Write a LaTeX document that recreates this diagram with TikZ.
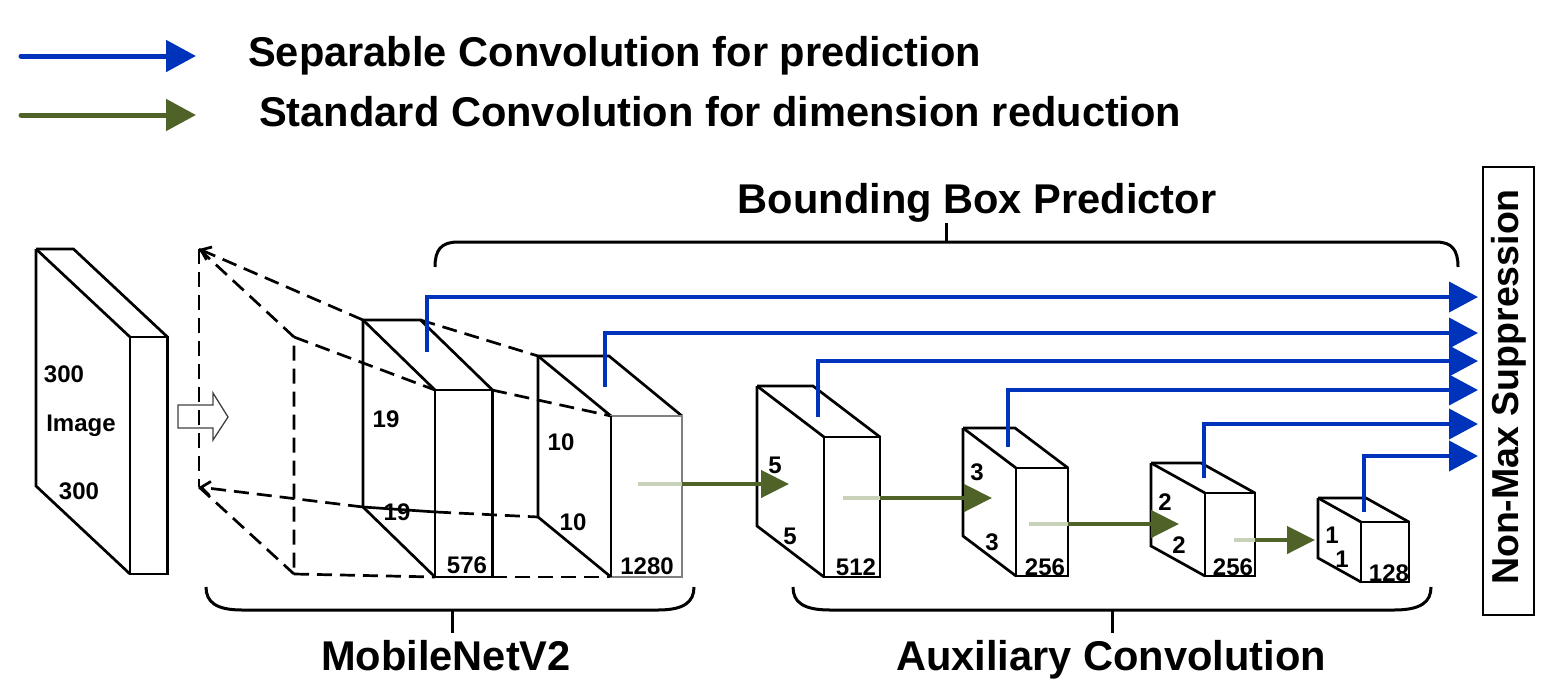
\documentclass[tikz,border=0pt]{standalone}
\usepackage{fontspec}
\setmainfont{Liberation Sans}
\usetikzlibrary{arrows.meta}
\definecolor{bluec}{RGB}{0,51,187}
\definecolor{greenc}{RGB}{79,98,40}
\definecolor{lightg}{RGB}{200,210,185}
\newcommand\myblock[7]{%
  \draw[blk] (#1,#2) -- ({#1+#5},#2) -- ({#1+#5+#3},{#2+#4});
  \draw[blk] (#1,#2) -- ({#1+#3},{#2+#4});
  \draw[blk] (#1,#2) -- (#1,{#2+#6}) -- ({#1+#3},{#2+#4+#6});
  \draw[blk,#7] ({#1+#3},{#2+#4}) rectangle ({#1+#3+#5},{#2+#4+#6});
}
\tikzset{
  blk/.style={line width=2.7pt, line join=miter},
  dsh/.style={line width=2.7pt, dash pattern=on 15pt off 8pt},
  lab/.style={font=\fontsize{24}{28}\selectfont\bfseries, inner sep=0pt, anchor=base},
  big/.style={font=\fontsize{41.6}{48}\selectfont\bfseries, inner sep=0pt},
  bluearr/.style={draw=bluec, line width=4pt, -{Triangle[length=29pt,width=30pt]}},
  greenarr/.style={draw=greenc, line width=4.5pt, -{Triangle[length=28pt,width=27pt]}},
  greenlight/.style={draw=lightg, line width=4.5pt},
  brace/.style={line width=3pt},
}
\begin{document}
\begin{tikzpicture}[x=1pt,y=-1pt]
\useasboundingbox (0,0) rectangle (1557,699);

% legend
\coordinate (lb1) at (21,56); \coordinate (lb2) at (196,56);
\coordinate (lg1) at (21,115); \coordinate (lg2) at (196,115);
\draw[draw=bluec, line width=5pt, line cap=round, -{Triangle[length=30pt,width=31pt]}] (lb1) -- (lb2);
\draw[draw=greenc, line width=5pt, line cap=round, -{Triangle[length=30pt,width=31pt]}] (lg1) -- (lg2);
\node[big, anchor=base west] (leg1) at (248,66) {Separable Convolution for prediction};
\node[big, anchor=base west] (leg2) at (259,126) {Standard Convolution for dimension reduction};

% image slab
\myblock{36}{249}{94}{88}{37.5}{237}{}
\node[lab] (i300a) at (64,382) {300};
\node[lab] (iimg) at (81,431) {Image};
\node[lab] (i300b) at (79,499) {300};

% hollow arrow
\draw[line width=1.3pt, draw=black!75] (178,405) -- (213,405) -- (213,393) -- (228,417) -- (213,440) -- (213,428) -- (178,428) -- cycle;

% dashed frustum
\coordinate (dA) at (199,249); \coordinate (dB) at (199,487);
\coordinate (dC) at (294,337); \coordinate (dD) at (294,574);
\draw[dsh] (dA) -- (dB);
\draw[dsh] (dA) -- (dC) -- (dD);
\draw[dsh] (dB) -- (dD);
\coordinate (b1btl) at (363,320); \coordinate (b1btr) at (420.5,320);
\coordinate (b1ftl) at (435,390); \coordinate (b1ftr) at (492,390);
\coordinate (b1bbl) at (363,507); \coordinate (b1fbl) at (435,577); \coordinate (b1fbr) at (492,577);
\coordinate (b1mid) at (436,512);
\coordinate (b2btl) at (538,356); \coordinate (b2ftl) at (611,416);
\coordinate (b2bbl) at (538,517); \coordinate (b2fbl) at (611,577);
\draw[dsh, -{Straight Barb[length=9pt,width=14pt]}] (b1btl) -- (dA);
\draw[dsh, -{Straight Barb[length=9pt,width=14pt]}] (b1bbl) -- (dB);
\draw[dsh] (dC) -- (b1ftl);
\draw[dsh] (dD) -- (b1fbl);
\draw[dsh] (b1btr) -- (b2btl);
\draw[dsh] (b1ftr) -- (b2ftl);
\draw[blk] (b1bbl) -- (b1mid);
\draw[dsh] (b1mid) -- (b2bbl);
\draw[dsh] (b1fbr) -- (b2fbl);

% blocks
\myblock{363}{320}{72}{70}{57.5}{187}{}
\myblock{538}{356}{73}{60}{71}{161}{draw=black!50}
\draw[blk] (611,416) -- (611,577);
\myblock{757}{386}{67}{51}{56}{140}{}
\myblock{963}{428}{53}{40}{52}{108}{}
\myblock{1151}{463}{54}{30}{50}{83}{}
\myblock{1318}{498}{43}{24}{48}{60}{}

% block labels
\node[lab] (l19a) at (386,427) {19};
\node[lab] (l19b) at (397,520) {19};
\node[lab] (l576) at (467,573) {576};
\node[lab] (l10a) at (561,450) {10};
\node[lab] (l10b) at (573,530) {10};
\node[lab] (l1280) at (647,574) {1280};
\node[lab] (l5a) at (775,473) {5};
\node[lab] (l5b) at (790,544) {5};
\node[lab] (l512) at (856,575) {512};
\node[lab] (l3a) at (977,480) {3};
\node[lab] (l3b) at (992,550) {3};
\node[lab] (l256a) at (1045,575) {256};
\node[lab] (l2a) at (1165,510) {2};
\node[lab] (l2b) at (1179,553) {2};
\node[lab] (l256b) at (1233,575) {256};
\node[lab] (l1a) at (1332,543) {1};
\node[lab] (l1b) at (1342,567) {1};
\node[lab] (l128) at (1389,581) {128};

% green arrows
\coordinate (g1s) at (638,484); \coordinate (g1m) at (682,484); \coordinate (g1e) at (789,484);
\coordinate (g2s) at (843,498); \coordinate (g2m) at (880,498); \coordinate (g2e) at (992,498);
\coordinate (g3s) at (1029,524); \coordinate (g3m) at (1068,524); \coordinate (g3e) at (1179,524);
\coordinate (g4s) at (1234,540); \coordinate (g4m) at (1255,540); \coordinate (g4e) at (1315,540);
\draw[greenlight] (g1s) -- (g1m); \draw[greenarr] (g1m) -- (g1e);
\draw[greenlight] (g2s) -- (g2m); \draw[greenarr] (g2m) -- (g2e);
\draw[greenlight] (g3s) -- (g3m); \draw[greenarr] (g3m) -- (g3e);
\draw[greenlight] (g4s) -- (g4m); \draw[greenarr] (g4m) -- (g4e);

% NMS box
\node[draw, line width=2pt, minimum width=51pt, minimum height=448pt, inner sep=0pt] (nms) at (1508.5,391) {};
\node[font=\fontsize{37.5}{42}\selectfont\bfseries, rotate=90, inner sep=0pt] (nmst) at (1509,387) {Non-Max Suppression};

% blue arrows
\coordinate (s1) at (427,352); \coordinate (e1) at (1478,297);
\coordinate (s2) at (605,387); \coordinate (e2) at (1478,333);
\coordinate (s3) at (818,417); \coordinate (e3) at (1478,361);
\coordinate (s4) at (1008,447); \coordinate (e4) at (1478,390);
\coordinate (s5) at (1204,478); \coordinate (e5) at (1478,424);
\coordinate (s6) at (1364,512); \coordinate (e6) at (1478,456);
\draw[bluearr] (s1) |- (e1);
\draw[bluearr] (s2) |- (e2);
\draw[bluearr] (s3) |- (e3);
\draw[bluearr] (s4) |- (e4);
\draw[bluearr] (s5) |- (e5);
\draw[bluearr] (s6) |- (e6);

% top brace
\draw[brace] (435,267) .. controls (435,250) and (441,242) .. (458,242) -- (1436,242) .. controls (1452,242) and (1458,250) .. (1458,267);
\coordinate (tb1) at (946,242); \coordinate (tb2) at (946,223);
\draw[brace] (tb1) -- (tb2);
\node[big, anchor=base] (bbp) at (977,213) {Bounding Box Predictor};

% bottom braces
\draw[brace] (206,587) .. controls (206,602) and (216,610) .. (242,610) -- (658,610) .. controls (684,610) and (694,602) .. (694,587);
\coordinate (mb1) at (452,610); \coordinate (mb2) at (452,633);
\draw[brace] (mb1) -- (mb2);
\node[big, anchor=base] (mnet) at (446,670) {MobileNetV2};

\draw[brace] (793,587) .. controls (793,602) and (803,610) .. (830,610) -- (1394,610) .. controls (1421,610) and (1431,602) .. (1431,587);
\coordinate (ab1) at (1112,610); \coordinate (ab2) at (1112,633);
\draw[brace] (ab1) -- (ab2);
\node[big, anchor=base] (aux) at (1111,670) {Auxiliary Convolution};
\end{tikzpicture}
\end{document}
